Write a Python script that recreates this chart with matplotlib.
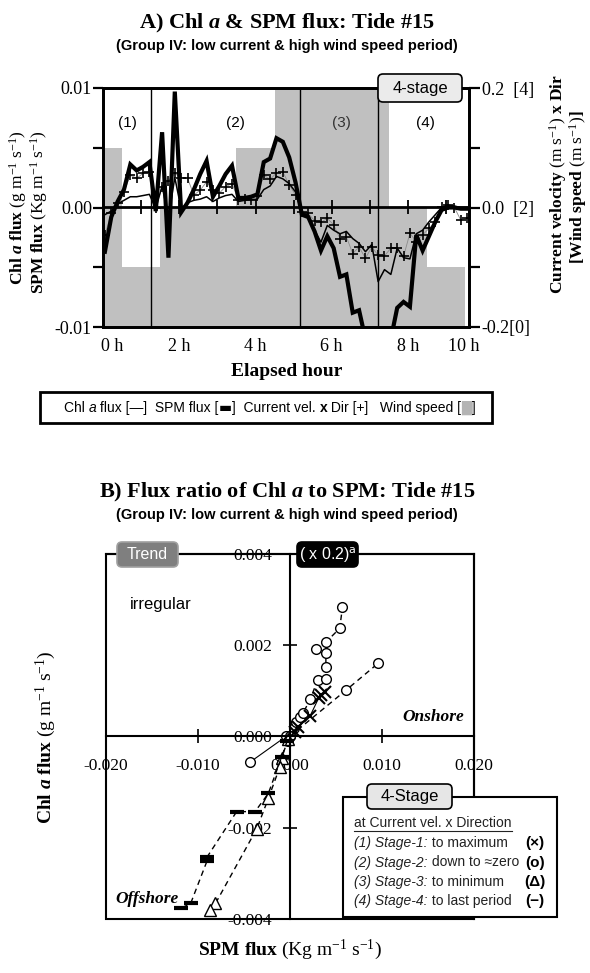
import numpy as np
import matplotlib.pyplot as plt
from matplotlib.patches import FancyBboxPatch, Rectangle
from matplotlib.lines import Line2D

plt.rcParams['font.family'] = ['Liberation Serif', 'DejaVu Serif']
plt.rcParams['mathtext.fontset'] = 'custom'
plt.rcParams['mathtext.rm'] = 'Liberation Serif'
plt.rcParams['mathtext.it'] = 'Liberation Serif:italic'
plt.rcParams['mathtext.bf'] = 'Liberation Serif:bold'
plt.rcParams['mathtext.bfit'] = 'Liberation Serif:italic:bold'
SANS = ['Liberation Sans', 'DejaVu Sans']

## Panel A data: 10-min samples, fluxes in 1e-3 units
chl_flux = [-0.6, -0.3, 0.3, 0.6, 0.9, 0.9, 1.0, 1.1, -0.1, 1.8,
            -0.8, 2.5, -0.1, 0.4, 0.6, 0.7, 0.9, 0.5, 0.8, 1.0,
            1.1, 0.5, 0.6, 0.65, 0.7, 1.5, 1.8, 2.6, 2.4, 2.0,
            1.3, -0.5, -0.6, -1.9, -2.9, -1.5, -1.9, -2.2, -2.0, -2.6,
            -3.0, -3.7, -3.1, -6.2, -5.2, -5.6, -3.4, -4.2, -4.3, -2.2,
            -1.9, -1.2, -0.6, 0.0, 0.2, 0.1, 0.0, 0.0]
spm_flux = [-3.7, -0.8, 0.5, 1.5, 3.6, 3.1, 3.4, 3.8, -0.3, 6.3,
            -4.2, 9.7, -0.4, 0.4, 1.5, 2.8, 3.9, 0.9, 1.8, 2.8,
            3.5, 0.8, 0.8, 0.9, 1.1, 3.8, 4.1, 5.8, 5.5, 4.2,
            2.1, -0.6, -0.8, -2.0, -3.6, -2.4, -3.4, -5.8, -5.6, -8.8,
            -8.6, -11.0, -13.0, -14.0, -13.0, -11.0, -8.4, -7.9, -8.3, -2.3,
            -3.6, -2.4, -1.2, -0.2, 0.0, 0.0, -0.1, -0.1]
cur_vel_dir = [-0.046, -0.010, 0.008, 0.026, 0.054, 0.049, 0.057, 0.060, 0.000, 0.035,
               0.045, 0.057, 0.050, 0.049, 0.021, 0.029, 0.043, 0.030, 0.024, 0.035,
               0.040, 0.013, 0.015, 0.013, 0.020, 0.054, 0.047, 0.058, 0.060, 0.038,
               0.021, -0.007, -0.010, -0.022, -0.025, -0.018, -0.029, -0.052, -0.049, -0.077,
               -0.066, -0.085, -0.066, -0.080, -0.081, -0.068, -0.068, -0.082, -0.043, -0.057,
               -0.046, -0.035, -0.024, 0.001, 0.004, 0.000, -0.021, -0.018]
wind_hour = [0, 1, 2, 3, 4, 5, 6, 7, 8, 9]
wind_speed = [3, 1, 2, 2, 3, 4, 4, 4, 2, 1]
stage_edges = [1.27, 5.18, 7.22]
stage_names = ['(1)', '(2)', '(3)', '(4)']
stage_mid = [0.63, 3.48, 6.26, 8.46]
hour_labels = ['0 h', '2 h', '4 h', '6 h', '8 h', '10 h']
hour_label_pos = [0.25, 2, 4, 6, 8, 9.45]

## Panel B data: SPM flux (x) vs Chl a flux (y), 1e-3 units
s1_spm = [0.5, 0.9, 2.2, 3.1, 3.4, 3.8]
s1_chl = [0.10, 0.21, 0.45, 0.83, 0.90, 0.97]
s2a_spm = [0.0, 0.4, 0.7, 1.1, 1.4, 2.2, 3.0, 3.9, 3.9, 3.9, 3.9, 5.4, 5.7]
s2a_chl = [0.0, 0.17, 0.32, 0.43, 0.50, 0.81, 1.23, 1.25, 1.51, 1.83, 2.06, 2.36, 2.82]
s2b_spm = [0.0, 6.1, 9.6]
s2b_chl = [0.0, 1.01, 1.60]
s2c_spm = [-4.3, -0.4, -0.2, 0.0]
s2c_chl = [-0.56, 0.0, -0.1, 0.0]
s2d_spm = [2.8]
s2d_chl = [1.9]
s3_spm = [-0.2, -0.9, -1.1, -2.35, -3.6, -8.1, -8.7]
s3_chl = [-0.05, -0.48, -0.67, -1.36, -2.02, -3.66, -3.80]
s4_spm = [-0.3, -0.9, -2.35, -3.8, -5.8, -9.0, -9.0, -10.8, -11.9]
s4_chl = [-0.1, -0.45, -1.25, -1.65, -1.65, -2.64, -2.72, -3.66, -3.77]

W, H = 590, 973
fig = plt.figure(figsize=(W / 100, H / 100), dpi=100)
renderer = fig.canvas.get_renderer()


def fx(x):
    return x / W


def fy(y):
    return 1 - y / H


def tab(x0, y0, x1, y1, fc, ec='black', r=5, lw=1.2):
    p = FancyBboxPatch((fx(x0), fy(y1)), fx(x1) - fx(x0), fy(y0) - fy(y1),
                       boxstyle=f'round,pad=0,rounding_size={r / W}',
                       mutation_aspect=W / H, transform=fig.transFigure,
                       fc=fc, ec=ec, lw=lw, zorder=5)
    fig.add_artist(p)


def chain(x, y, parts, **common):
    # texts placed one after another on a shared baseline
    xp = x
    out = []
    for s, kw in parts:
        opts = {'va': 'baseline', 'ha': 'left', 'zorder': 6}
        opts.update(common)
        opts.update(kw)
        t = fig.text(xp / W, fy(y), s, **opts)
        xp = t.get_window_extent(renderer).x1
        out.append(t)
    return out


hours = (np.arange(len(spm_flux)) * 10 + 3) / 60
chl = np.array(chl_flux) * 1e-3
spm = np.array(spm_flux) * 1e-3

# ---------------- Panel A ----------------
ax = fig.add_axes([fx(103), fy(327), (469 - 103) / W, (327 - 88) / H])
ax2 = ax.twinx()
ax.set_zorder(ax2.get_zorder() + 1)
ax.patch.set_visible(False)

ax2.bar(wind_hour, np.array(wind_speed) * 0.1, bottom=-0.2, width=1.0,
        color='#c0c0c0', linewidth=0)
ax2.plot(hours, cur_vel_dir, color='#8c8c8c', lw=0.6)
ax2.plot(hours, cur_vel_dir, ls='none', marker='+', ms=7, mew=1.2, color='black')
ax2.set_ylim(-0.2, 0.2)
ax2.set_yticks([-0.2, 0.0, 0.2], ['-0.2[0]', '0.0  [2]', '0.2  [4]'])
ax2.set_yticks([-0.1, 0.1], minor=True)
ax2.tick_params(axis='y', which='both', length=8, width=1.6, pad=1, labelsize=13)

ax.plot(hours, chl, color='black', lw=1.1)
ax.plot(hours, spm, color='black', lw=3.0, solid_joinstyle='miter')
for e in stage_edges:
    ax.axvline(e, color='black', lw=1.0)
for name, m in zip(stage_names, stage_mid):
    ax.text(m, 0.0071, name, ha='center', va='center', fontsize=11,
            family=SANS, color='#333333' if name == '(3)' else 'black')

ax.set_xlim(0, 9.6)
ax.set_ylim(-0.01, 0.01)
ax.set_yticks([-0.01, 0.0, 0.01], ['-0.01', '0.00', '0.01'])
ax.set_yticks([-0.005, 0.005], minor=True)
ax.tick_params(axis='y', which='both', length=7, width=1.6, pad=1, labelsize=13)
ax.set_xticks(hour_label_pos, hour_labels)
ax.tick_params(axis='x', length=0, pad=8, labelsize=13)
for a in (ax, ax2):
    for s in a.spines.values():
        s.set_linewidth(2)

zero_ax = ax.secondary_xaxis(0.5)
zero_ax.set_xticks(range(1, 10))
zero_ax.tick_params(axis='x', direction='inout', length=10, width=1.3,
                    labelbottom=False, labeltop=False)
zero_ax.spines['bottom'].set_linewidth(2)
zero_ax.spines['top'].set_linewidth(2)

tab(378, 74, 462, 102, '#ebebeb')
fig.text(fx(420), fy(89), '4-stage', ha='center', va='center', fontsize=12,
         family=SANS, zorder=6)

fig.text(fx(287), fy(23), r'A) Chl $\mathbfit{a}$ & SPM flux: Tide #15',
         ha='center', va='center', fontsize=16, weight='bold')
fig.text(fx(287), fy(46), '(Group IV: low current & high wind speed period)',
         ha='center', va='center', fontsize=10.5, weight='bold', family=SANS)
fig.text(fx(287), fy(372), 'Elapsed hour', ha='center', va='center',
         fontsize=14, weight='bold')
fig.text(fx(18), fy(208), r'Chl $\mathbfit{a}$ flux $\mathrm{(g\ m^{-1}\ s^{-1})}$',
         rotation=90, ha='center', va='center', fontsize=12.5, weight='bold')
fig.text(fx(39), fy(212), r'SPM flux $\mathrm{(Kg\ m^{-1}\ s^{-1})}$',
         rotation=90, ha='center', va='center', fontsize=12.5, weight='bold')
fig.text(fx(558), fy(184), r'Current velocity $\mathrm{(m\ s^{-1})}$ x Dir',
         rotation=90, ha='center', va='center', fontsize=12.5, weight='bold')
fig.text(fx(578), fy(187), r'[Wind speed $\mathrm{(m\ s^{-1})}$]',
         rotation=90, ha='center', va='center', fontsize=12.5, weight='bold')

# legend strip of panel A
fig.add_artist(Rectangle((fx(40), fy(423)), (492 - 40) / W, (423 - 392) / H,
                         transform=fig.transFigure, fill=False, ec='black', lw=2))
chain(64, 412, [('Chl ', {}), ('a', {'style': 'italic'}),
                (' flux [—]  SPM flux [', {}), ('▬', {'family': 'DejaVu Sans'}),
                (']  Current vel. ', {}), ('x', {'weight': 'bold'}),
                (' Dir [+]   Wind speed [', {}),
                ('█', {'family': 'DejaVu Sans', 'color': '#b4b4b4'}), (']', {})],
      fontsize=10, family=SANS)

# ---------------- Panel B ----------------
bx = fig.add_axes([fx(106), fy(919), (474 - 106) / W, (919 - 553.5) / H])
k = 1e-3
bx.plot(np.array(s2a_spm) * k, np.array(s2a_chl) * k, ls=(0, (4, 3)), lw=1,
        color='black', marker='o', ms=7, mfc='white', mew=1)
bx.plot(np.array(s2b_spm) * k, np.array(s2b_chl) * k, ls=(0, (4, 3)), lw=1,
        color='black', marker='o', ms=7, mfc='white', mew=1)
bx.plot(np.array(s2c_spm) * k, np.array(s2c_chl) * k, ls='-', lw=0.8,
        color='black', marker='o', ms=7, mfc='white', mew=1)
bx.plot(np.array(s2d_spm) * k, np.array(s2d_chl) * k, ls='none',
        color='black', marker='o', ms=7, mfc='white', mew=1)
bx.plot(np.array(s1_spm) * k, np.array(s1_chl) * k, ls='-', lw=0.8,
        color='black', marker='x', ms=8, mew=1.5)
bx.plot(np.array(s3_spm) * k, np.array(s3_chl) * k, ls=(0, (4, 3)), lw=1,
        color='black', marker='^', ms=8, mfc='white', mew=1)
bx.plot(np.array(s4_spm) * k, np.array(s4_chl) * k, ls=(0, (4, 3)), lw=1,
        color='black', marker='_', ms=10, mew=3)

bx.set_xlim(-0.02, 0.02)
bx.set_ylim(-0.004, 0.004)
bx.spines['left'].set_position(('data', 0))
bx.spines['bottom'].set_position(('data', 0))
for s in bx.spines.values():
    s.set_linewidth(1.5)
bx.add_patch(Rectangle((0, 0), 1, 1, transform=bx.transAxes, fill=False,
                       ec='black', lw=1.5, clip_on=False))
bx.set_xticks([-0.02, -0.01, 0, 0.01, 0.02],
              ['-0.020', '-0.010', '0.000', '0.010', '0.020'])
bx.set_yticks([-0.004, -0.002, 0, 0.002, 0.004],
              ['-0.004', '-0.002', '0.000', '0.002', '0.004'])
bx.tick_params(axis='x', direction='inout', length=10, width=1.2, pad=11, labelsize=12.5)
bx.tick_params(axis='y', direction='inout', length=10, width=1.2, pad=8, labelsize=12.5)

fig.text(fx(287), fy(492), r'B) Flux ratio of Chl $\mathbfit{a}$ to SPM: Tide #15',
         ha='center', va='center', fontsize=16, weight='bold')
fig.text(fx(287), fy(515), '(Group IV: low current & high wind speed period)',
         ha='center', va='center', fontsize=10.5, weight='bold', family=SANS)
fig.text(fx(290), fy(950), r'SPM flux $\mathrm{(Kg\ m^{-1}\ s^{-1})}$',
         ha='center', va='center', fontsize=14, weight='bold')
fig.text(fx(46), fy(737), r'Chl $\mathbfit{a}$ flux $\mathrm{(g\ m^{-1}\ s^{-1})}$',
         rotation=90, ha='center', va='center', fontsize=14, weight='bold')
fig.text(fx(130), fy(605), 'irregular', ha='left', va='center', fontsize=12,
         family=SANS)
fig.text(fx(402), fy(717), 'Onshore', ha='left', va='center', fontsize=12.5,
         weight='bold', style='italic')
fig.text(fx(115), fy(899), 'Offshore', ha='left', va='center', fontsize=12.5,
         weight='bold', style='italic')

tab(117, 542, 178, 567, '#7f7f7f', ec='#a0a0a0')
fig.text(fx(147.5), fy(554.5), 'Trend', ha='center', va='center', fontsize=11.5,
         color='white', family=SANS, zorder=6)
tab(297, 542, 358, 567, 'black')
fig.text(fx(327.5), fy(555), r'( x 0.2)$^{\mathrm{a}}$', ha='center', va='center',
         fontsize=11.5, color='white', family=SANS, math_fontfamily='dejavusans',
         zorder=6)

# legend box of panel B
fig.add_artist(Rectangle((fx(343), fy(917)), (557 - 343) / W, (917 - 797) / H,
                         transform=fig.transFigure, fc='white', ec='black',
                         lw=1.5, zorder=4))
tab(367, 784, 452, 809, '#e6e6e6')
fig.text(fx(409.5), fy(796.5), '4-Stage', ha='center', va='center', fontsize=12,
         family=SANS, zorder=6)
hdr = fig.text(fx(354), fy(827), 'at Current vel. x Direction', ha='left',
               va='baseline', fontsize=10, family=SANS, color='#222222', zorder=6)
bb = hdr.get_window_extent(renderer)
fig.add_artist(Line2D([bb.x0 / W, bb.x1 / W], [(bb.y0 - 1) / H] * 2,
                      transform=fig.transFigure, color='#222222', lw=0.8, zorder=6))
legend_rows = [('(1) Stage-1:', ' to maximum', '(×)'),
               ('(2) Stage-2:', ' down to ≈zero', '(o)'),
               ('(3) Stage-3:', ' to minimum', '(Δ)'),
               ('(4) Stage-4:', ' to last period', '(−)')]
for j, (a, b, m) in enumerate(legend_rows):
    yb = 847 + j * 19.5
    chain(354, yb, [(a, {'style': 'italic'}), (b, {})], fontsize=10,
          family=SANS, color='#222222')
    fig.text(fx(535), fy(yb), m, ha='center', va='baseline', fontsize=11,
             family=SANS, weight='bold', zorder=6)

fig.savefig('out.png', dpi=100)
